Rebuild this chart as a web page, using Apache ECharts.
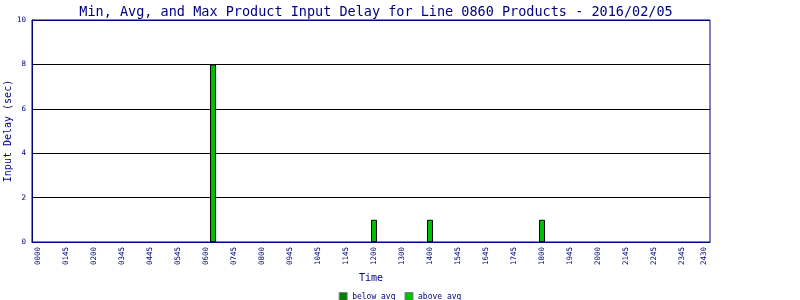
<!DOCTYPE html>
<html>
<head>
<meta charset="utf-8">
<script src="https://cdn.jsdelivr.net/npm/echarts@6/dist/echarts.min.js"></script>
<style>
html,body{margin:0;padding:0;background:#fff;}
#chart{width:800px;height:300px;}
</style>
</head>
<body>
<div id="chart"></div>
<script>
// Tick labels (as printed on the reference) and their positions in minutes of the day
var tickLabels = ['0000','0145','0200','0345','0445','0545','0600','0745','0800','0945','1045','1145','1200','1300','1400','1545','1645','1745','1800','1945','2000','2145','2245','2345','2430'];
var tickMinutes = [0,60,120,180,240,300,360,420,480,540,600,660,720,780,840,900,960,1020,1080,1140,1200,1260,1320,1380,1427];

// Bars: time of day (minutes) and input delay (sec)
var belowTimes = [];
var belowDelay = [];
var aboveTimes = [375, 720, 840, 1080];
var aboveDelay = [8, 1, 1, 1];

var navy = '#000080';
var mono = 'DejaVu Sans Mono';

function pairs(xs, ys) { return xs.map(function (x, i) { return [x, ys[i]]; }); }

var chart = echarts.init(document.getElementById('chart'), null, {renderer: 'canvas'});
chart.setOption({
  animation: false,
  backgroundColor: '#ffffff',
  title: {
    text: 'Min, Avg, and Max Product Input Delay for Line 0860 Products - 2016/02/05',
    left: 371, top: 0, textAlign: 'center',
    textStyle: {fontFamily: mono, fontSize: 13.5, fontWeight: 'normal', color: navy}
  },
  legend: {
    data: ['below avg', 'above avg'],
    left: 'center', top: 287,
    itemWidth: 8, itemHeight: 8, itemGap: 9,
    icon: 'rect',
    itemStyle: {borderColor: '#808080', borderWidth: 1},
    textStyle: {fontFamily: mono, fontSize: 8, color: navy}
  },
  grid: {left: 32, right: 90, top: 20, bottom: 58, outerBoundsMode: 'none', containLabel: false,
         show: true, borderColor: navy, borderWidth: 1},
  xAxis: {
    type: 'value', min: -13, max: 1440,
    name: 'Time', nameLocation: 'middle', nameGap: 31, nameMoveOverlap: false,
    nameTextStyle: {fontFamily: mono, fontSize: 10, color: navy},
    axisLine: {show: true, onZero: false, lineStyle: {color: navy, width: 1}},
    axisTick: {show: false},
    splitLine: {show: false},
    axisLabel: {
      customValues: tickMinutes,
      rotate: 90, margin: 5,
      fontFamily: mono, fontSize: 7.5, color: navy,
      formatter: function (v) {
        var i = tickMinutes.indexOf(v);
        return i >= 0 ? tickLabels[i] : '';
      }
    }
  },
  yAxis: {
    type: 'value', min: 0, max: 10, interval: 2,
    name: 'Input Delay (sec)', nameLocation: 'middle', nameGap: 19, nameMoveOverlap: false,
    nameTextStyle: {fontFamily: mono, fontSize: 10, color: navy},
    axisLine: {show: true, onZero: false, lineStyle: {color: navy, width: 1}},
    axisTick: {show: false},
    axisLabel: {fontFamily: mono, fontSize: 7.5, color: navy, margin: 6},
    splitLine: {show: true, lineStyle: {color: [navy, '#000000', '#000000', '#000000', '#000000', navy], width: 1}}
  },
  series: [
    {
      name: 'below avg', type: 'bar', barWidth: 6, barGap: '-100%',
      itemStyle: {color: '#008000', borderColor: '#000000', borderWidth: 1},
      data: pairs(belowTimes, belowDelay)
    },
    {
      name: 'above avg', type: 'bar', barWidth: 6, barGap: '-100%',
      itemStyle: {color: '#00c000', borderColor: '#000000', borderWidth: 1},
      data: pairs(aboveTimes, aboveDelay)
    }
  ]
});
</script>
</body>
</html>
